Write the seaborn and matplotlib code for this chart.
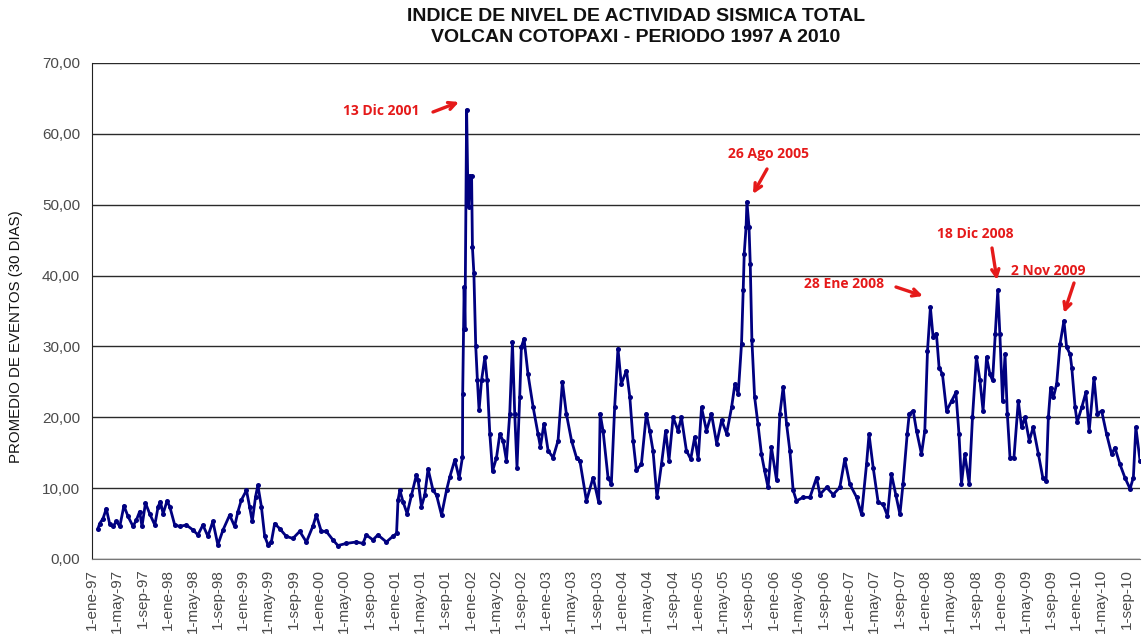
import matplotlib
matplotlib.use("Agg")
import matplotlib.pyplot as plt
from matplotlib.ticker import FuncFormatter
import pandas as pd
import seaborn as sns

# Promedio de eventos (ventana 30 dias)
FECHAS = [
    "1997-01-30", "1997-02-07", "1997-02-23", "1997-03-11", "1997-03-27", "1997-04-12",
    "1997-04-29", "1997-05-15", "1997-06-04", "1997-06-24", "1997-07-18", "1997-08-03",
    "1997-08-19", "1997-08-30", "1997-09-16", "1997-10-06", "1997-10-31", "1997-11-16",
    "1997-11-27", "1997-12-10", "1997-12-29", "1998-01-11", "1998-02-04", "1998-02-28",
    "1998-04-01", "1998-05-03", "1998-05-27", "1998-06-20", "1998-07-14", "1998-08-07",
    "1998-08-31", "1998-09-25", "1998-10-27", "1998-11-20", "1998-12-06", "1998-12-22",
    "1999-01-16", "1999-01-31", "1999-02-13", "1999-03-01", "1999-03-12", "1999-03-29",
    "1999-04-14", "1999-04-30", "1999-05-16", "1999-06-01", "1999-06-25", "1999-07-27",
    "1999-08-28", "1999-09-30", "1999-11-01", "1999-12-02", "1999-12-19", "2000-01-12",
    "2000-02-05", "2000-03-08", "2000-04-01", "2000-05-12", "2000-06-29", "2000-07-31",
    "2000-08-16", "2000-09-17", "2000-10-11", "2000-11-21", "2000-12-22", "2001-01-09",
    "2001-01-16", "2001-01-25", "2001-02-09", "2001-03-01", "2001-03-22", "2001-04-15",
    "2001-04-23", "2001-05-09", "2001-05-25", "2001-06-10", "2001-07-04", "2001-07-21",
    "2001-08-14", "2001-09-07", "2001-09-23", "2001-10-17", "2001-11-07", "2001-11-23",
    "2001-11-24", "2001-11-28", "2001-12-01", "2001-12-05", "2001-12-13", "2001-12-18",
    "2001-12-23", "2001-12-30", "2002-01-06", "2002-01-10", "2002-01-17", "2002-01-26",
    "2002-02-03", "2002-02-11", "2002-02-23", "2002-03-11", "2002-03-22", "2002-04-04",
    "2002-04-17", "2002-05-06", "2002-05-22", "2002-06-07", "2002-06-23", "2002-07-09",
    "2002-07-22", "2002-08-02", "2002-08-13", "2002-08-26", "2002-09-03", "2002-09-16",
    "2002-10-05", "2002-10-30", "2002-11-23", "2002-12-04", "2002-12-21", "2003-01-10",
    "2003-02-03", "2003-02-27", "2003-03-20", "2003-04-08", "2003-05-03", "2003-05-27",
    "2003-06-12", "2003-07-14", "2003-08-15", "2003-09-11", "2003-09-18", "2003-10-02",
    "2003-10-26", "2003-11-11", "2003-11-27", "2003-12-13", "2003-12-29", "2004-01-23",
    "2004-02-08", "2004-02-24", "2004-03-11", "2004-04-04", "2004-04-28", "2004-05-14",
    "2004-05-30", "2004-06-18", "2004-07-10", "2004-07-30", "2004-08-15", "2004-09-04",
    "2004-09-28", "2004-10-14", "2004-11-07", "2004-11-28", "2004-12-17", "2005-01-03",
    "2005-01-19", "2005-02-12", "2005-03-08", "2005-04-02", "2005-04-26", "2005-05-20",
    "2005-06-13", "2005-06-29", "2005-07-15", "2005-07-31", "2005-08-08", "2005-08-13",
    "2005-08-22", "2005-08-26", "2005-09-05", "2005-09-11", "2005-09-19", "2005-10-02",
    "2005-10-18", "2005-11-04", "2005-11-19", "2005-12-06", "2005-12-22", "2006-01-16",
    "2006-02-01", "2006-02-17", "2006-03-05", "2006-03-21", "2006-04-06", "2006-04-22",
    "2006-05-24", "2006-06-26", "2006-07-28", "2006-08-13", "2006-09-14", "2006-10-16",
    "2006-11-17", "2006-12-11", "2007-01-04", "2007-02-06", "2007-03-02", "2007-03-26",
    "2007-04-07", "2007-04-27", "2007-05-21", "2007-06-14", "2007-07-05", "2007-07-24",
    "2007-08-14", "2007-09-03", "2007-09-18", "2007-10-08", "2007-10-18", "2007-11-06",
    "2007-11-22", "2007-12-16", "2008-01-01", "2008-01-14", "2008-01-28", "2008-02-10",
    "2008-02-26", "2008-03-10", "2008-03-26", "2008-04-15", "2008-05-09", "2008-05-30",
    "2008-06-14", "2008-06-26", "2008-07-12", "2008-08-02", "2008-08-18", "2008-09-06",
    "2008-09-23", "2008-10-08", "2008-10-25", "2008-11-10", "2008-11-23", "2008-12-06",
    "2008-12-18", "2008-12-28", "2009-01-10", "2009-01-22", "2009-02-02", "2009-02-15",
    "2009-03-06", "2009-03-27", "2009-04-12", "2009-04-28", "2009-05-19", "2009-06-07",
    "2009-07-02", "2009-07-23", "2009-08-08", "2009-08-19", "2009-08-30", "2009-09-12",
    "2009-09-28", "2009-10-14", "2009-11-02", "2009-11-15", "2009-12-02", "2009-12-10",
    "2009-12-26", "2010-01-05", "2010-01-27", "2010-02-16", "2010-03-04", "2010-03-27",
    "2010-04-12", "2010-05-03", "2010-05-27", "2010-06-20", "2010-07-06", "2010-07-30",
    "2010-08-23", "2010-09-17", "2010-10-03", "2010-10-15", "2010-11-04",
]
PROMEDIO = [
    4.3, 5.0, 5.7, 7.1, 5.0, 4.6,
    5.3, 4.6, 7.5, 6.0, 4.6, 5.5,
    6.7, 4.6, 7.9, 6.4, 4.8, 7.4,
    8.1, 6.4, 8.2, 7.4, 4.8, 4.6,
    4.8, 4.1, 3.4, 4.8, 3.2, 5.3,
    2.0, 4.1, 6.2, 4.6, 6.7, 8.3,
    9.7, 7.4, 5.3, 8.8, 10.4, 7.4,
    3.2, 2.0, 2.4, 5.0, 4.3, 3.2,
    2.9, 3.9, 2.4, 4.6, 6.2, 3.9,
    3.9, 2.7, 1.9, 2.2, 2.4, 2.2,
    3.4, 2.7, 3.4, 2.4, 3.2, 3.6,
    8.3, 9.7, 8.1, 6.4, 9.0, 11.9,
    11.1, 7.4, 9.0, 12.7, 9.7, 9.0,
    6.2, 9.7, 11.6, 14.0, 11.4, 14.4,
    23.3, 32.5, 38.4, 32.5, 63.4, 54.0,
    49.7, 54.0, 54.0, 44.0, 40.3, 30.0,
    25.2, 21.0, 25.2, 28.5, 25.2, 17.6,
    12.4, 14.3, 17.6, 16.7, 13.9, 20.5,
    30.6, 20.5, 12.9, 22.8, 29.9, 31.1,
    26.1, 21.4, 17.6, 15.8, 19.1, 15.3,
    14.3, 16.7, 25.0, 20.5, 16.7, 14.3,
    13.9, 8.2, 11.5, 8.0, 20.5, 18.1,
    11.5, 10.6, 21.4, 29.7, 24.7, 26.6,
    22.9, 16.7, 12.5, 13.4, 20.5, 18.1,
    15.3, 8.7, 13.4, 18.1, 13.9, 20.0,
    18.1, 20.0, 15.3, 14.1, 17.2, 14.1,
    21.4, 18.1, 20.5, 16.3, 19.6, 17.7,
    21.4, 24.7, 23.3, 30.4, 37.9, 43.1,
    46.9, 50.4, 46.9, 41.7, 30.9, 22.9,
    19.1, 14.8, 12.5, 10.1, 15.8, 11.1,
    20.5, 24.3, 19.1, 15.3, 9.7, 8.2,
    8.7, 8.7, 11.5, 9.1, 10.1, 9.1,
    10.1, 14.1, 10.6, 8.7, 6.3, 13.4,
    17.6, 12.9, 8.0, 7.7, 6.1, 12.0,
    9.1, 6.3, 10.6, 17.6, 20.5, 20.9,
    18.1, 14.8, 18.1, 29.4, 35.5, 31.3,
    31.8, 27.0, 26.1, 20.9, 22.3, 23.5,
    17.6, 10.6, 14.8, 10.6, 20.0, 28.5,
    25.2, 20.9, 28.5, 26.1, 25.2, 31.8,
    37.9, 31.8, 22.3, 28.9, 20.5, 14.3,
    14.3, 22.3, 18.6, 20.0, 16.7, 18.6,
    14.8, 11.5, 11.0, 20.0, 24.2, 22.8,
    24.7, 30.3, 33.6, 29.9, 28.9, 27.0,
    21.4, 19.3, 21.4, 23.5, 18.1, 25.6,
    20.5, 20.9, 17.6, 14.8, 15.7, 13.4,
    11.5, 9.9, 11.5, 18.6, 13.9,
]

EVENTOS = ["13 Dic 2001", "26 Ago 2005", "28 Ene 2008", "18 Dic 2008", "2 Nov 2009"]
MESES = {1: "ene", 5: "may", 9: "sep"}

TITULO = "INDICE DE NIVEL DE ACTIVIDAD SISMICA TOTAL\nVOLCAN COTOPAXI - PERIODO 1997 A 2010"
Y_LABEL = "PROMEDIO DE EVENTOS (30 DIAS)"

W, H = 1142, 642


def fig_xy(x, y):
    # pixel (origen arriba-izquierda) -> fraccion de figura
    return x / W, 1 - y / H


def main() -> None:
    sns.set_style("white")
    plt.rcParams["font.family"] = ["Liberation Sans", "DejaVu Sans"]

    df = pd.DataFrame({"fecha": pd.to_datetime(FECHAS), "valor": PROMEDIO})

    fig = plt.figure(figsize=(W / 100, H / 100), dpi=100)
    ax = fig.add_axes([92 / W, 1 - 559 / H, 1048 / W, 496 / H])

    sns.lineplot(data=df, x="fecha", y="valor", ax=ax, color="#000080",
                 linewidth=2.0, marker="o", markersize=3.6, markeredgewidth=0,
                 zorder=3)

    ax.set_ylim(0, 70)
    ax.set_yticks(range(0, 71, 10))
    ax.yaxis.set_major_formatter(FuncFormatter(lambda v, _: f"{v:.2f}".replace(".", ",")))
    ax.grid(axis="y", color="#2a2a2a", linewidth=1)
    ax.set_xlim(pd.Timestamp("1997-01-01"), pd.Timestamp("2010-11-04"))

    ticks = pd.date_range("1997-01-01", "2010-09-01", freq="4MS")
    ax.set_xticks(ticks)
    ax.set_xticklabels([f"1-{MESES[t.month]}-{t.year % 100:02d}" for t in ticks],
                       rotation=90)
    ax.tick_params(axis="both", which="major", length=5, width=1, direction="out",
                   colors="#333333", labelsize=11, labelcolor="#4a4a4a")
    ax.tick_params(axis="x", pad=2)

    for side in ["top", "right"]:
        ax.spines[side].set_visible(False)
    ax.spines["left"].set_color("#222222")
    ax.spines["bottom"].set_color("#777777")

    ax.set_xlabel("")
    ax.set_ylabel(Y_LABEL, fontsize=10.8, color="#111111")
    ax.yaxis.set_label_coords(-0.066, 0.448)

    tx, ty = fig_xy(636, 27)
    fig.text(tx, ty, TITULO, ha="center", va="center", fontsize=14,
             fontweight="bold", linespacing=1.3, color="#111111")

    rojo = "#E51A1A"
    # (texto, centro del texto, inicio y punta de la flecha) en pixeles
    notas = [
        (EVENTOS[0], (381, 111), (433, 112), (459, 102)),
        (EVENTOS[1], (768, 154), (767, 169), (753, 194)),
        (EVENTOS[2], (844, 284), (896, 287), (923, 296)),
        (EVENTOS[3], (975, 234), (992, 248), (997, 280)),
        (EVENTOS[4], (1048, 271), (1074, 283), (1064, 313)),
    ]
    for texto, pos_t, ini, fin in notas:
        fig.text(*fig_xy(*pos_t), texto, color=rojo, fontsize=10,
                 fontweight="bold", ha="center", va="center", zorder=5,
                 family=["Open Sans", "DejaVu Sans"])
        ax.annotate("", xy=fig_xy(*fin), xycoords="figure fraction",
                    xytext=fig_xy(*ini), textcoords="figure fraction",
                    arrowprops=dict(arrowstyle="->", color=rojo, lw=2.4,
                                    mutation_scale=13, shrinkA=0, shrinkB=0),
                    zorder=5)

    fig.savefig("out.png", dpi=100)
    plt.close(fig)


if __name__ == "__main__":
    main()
